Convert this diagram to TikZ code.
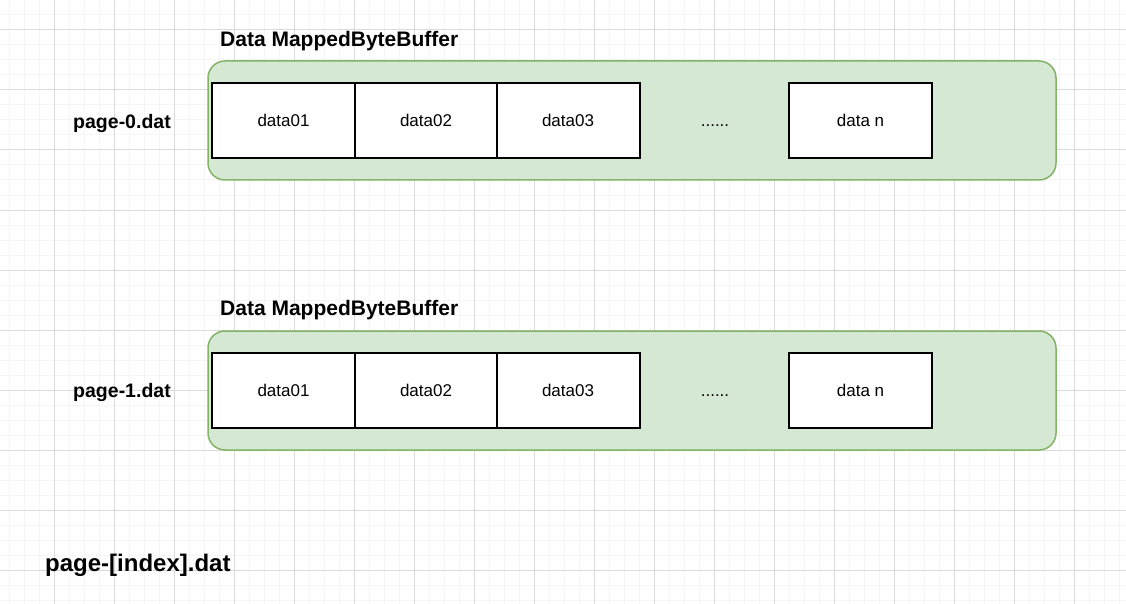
\documentclass[tikz,border=0pt]{standalone}
\usepackage{fontspec}
\setmainfont{Liberation Sans}
\usepackage{xcolor}
\usetikzlibrary{positioning}

\definecolor{bufFill}{HTML}{D5E8D4}
\definecolor{bufLine}{HTML}{82B366}
\definecolor{gridMajor}{HTML}{DADADA}
\definecolor{gridMinor}{HTML}{F5F5F5}

\begin{document}
\begin{tikzpicture}[x=1pt, y=-1pt,
    buffer/.style={draw=bufLine, fill=bufFill, line width=1.5pt, rounded corners=17pt, minimum width=848pt, minimum height=119pt, inner sep=0pt},
    cell/.style={draw=black, fill=white, line width=2pt, minimum width=143pt, minimum height=75pt, inner sep=0pt, font=\fontsize{17}{20}\selectfont},
    title/.style={font=\bfseries\fontsize{21}{24}\selectfont, anchor=west, inner sep=0pt},
    pagelabel/.style={font=\bfseries\fontsize{19.5}{23}\selectfont, inner sep=0pt},
    gap/.style={font=\fontsize{17}{20}\selectfont, anchor=base, inner sep=0pt}]
    \useasboundingbox (0,0) rectangle (1126,604);
    \fill[white] (0,0) rectangle (1126,604);

    % background grid
    \foreach \x in {9,24,...,1124} \draw[gridMinor, line width=1pt] (\x,0) -- (\x,604);
    \foreach \y in {0,15,...,600} \draw[gridMinor, line width=1pt] (0,\y) -- (1126,\y);
    \foreach \x in {54,114,...,1074} \draw[gridMajor, line width=1pt] (\x,0) -- (\x,604);
    \foreach \y in {30,90,...,570} \draw[gridMajor, line width=1pt] (0,\y) -- (1126,\y);

    % page-0
    \node[buffer] (buf0) at (632,120.5) {};
    \node[title] (title0) at (220,41.5) {Data MappedByteBuffer};
    \node[pagelabel] (page0) at (122,123.5) {page-0.dat};
    \node[cell] (d0a) at (283.5,120.5) {data01};
    \node[cell] (d0b) at (426,120.5) {data02};
    \node[cell] (d0c) at (568,120.5) {data03};
    \node[gap] (dots0) at (715,127) {......};
    \node[cell] (d0n) at (860.5,120.5) {data n};

    % page-1
    \node[buffer] (buf1) at (632,390.5) {};
    \node[title] (title1) at (220,310.5) {Data MappedByteBuffer};
    \node[pagelabel] (page1) at (122,392.5) {page-1.dat};
    \node[cell] (d1a) at (283.5,390.5) {data01};
    \node[cell] (d1b) at (426,390.5) {data02};
    \node[cell] (d1c) at (568,390.5) {data03};
    \node[gap] (dots1) at (715,396) {......};
    \node[cell] (d1n) at (860.5,390.5) {data n};

    % file name pattern
    \node[font=\bfseries\fontsize{24}{28}\selectfont, anchor=west, inner sep=0pt] (pattern) at (45,565.5) {page-[index].dat};
\end{tikzpicture}
\end{document}
